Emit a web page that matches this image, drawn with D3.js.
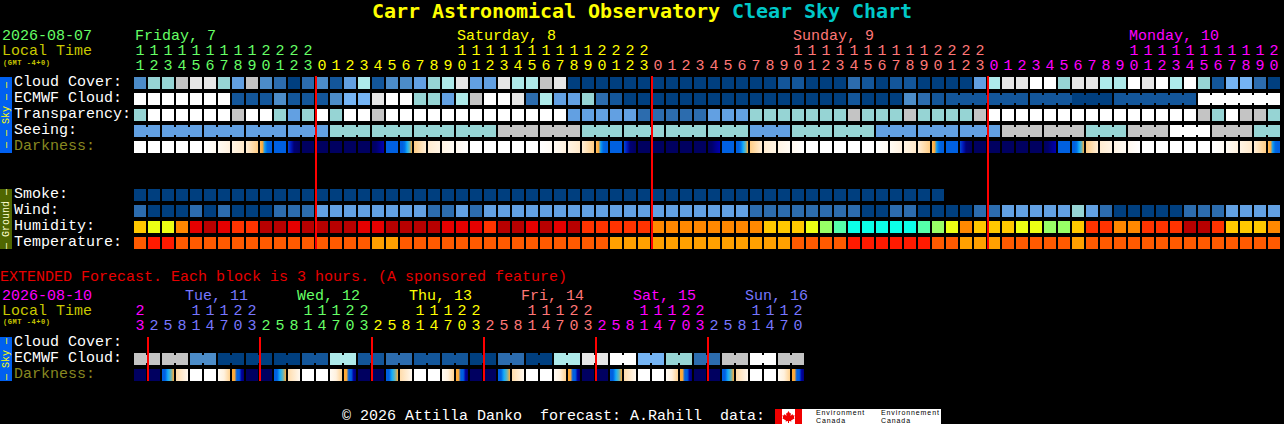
<!DOCTYPE html>
<html><head><meta charset="utf-8">
<style>
html,body{margin:0;padding:0;background:#000;overflow:hidden}
svg{display:block}
text{white-space:pre;font-family:"Liberation Mono",monospace;font-size:15px}
</style>
<script src="https://d3js.org/d3.v7.min.js"></script>
</head><body><svg id="c" width="1284" height="424"></svg>
<script>
// ---------- hourly forecast ----------
const hourLabels = [11,12,13,14,15,16,17,18,19,20,21,22,23,
 0,1,2,3,4,5,6,7,8,9,10,11,12,13,14,15,16,17,18,19,20,21,22,23,
 0,1,2,3,4,5,6,7,8,9,10,11,12,13,14,15,16,17,18,19,20,21,22,23,
 0,1,2,3,4,5,6,7,8,9,10,11,12,13,14,15,16,17,18,19,20];
const hourDays = [[0,13,"Friday, 7","#66ff66",0],[13,37,"Saturday, 8","#ffff00",23],[37,61,"Sunday, 9","#ff7777",47],[61,82,"Monday, 10","#ff00ff",71]];
const cloudCover = [3,6,6,8,9,9,6,4,8,3,2,0,2,3,1,4,7,1,3,3,4,6,7,9,4,4,9,7,7,8,9,0,0,0,0,0,0,0,0,0,0,0,0,0,0,0,1,1,0,0,0,2,1,0,1,1,0,0,0,0,4,7,9,9,10,10,6,9,9,7,7,10,9,10,7,10,6,1,5,5,2,0];
const ecmwfCloud = [10,10,10,10,10,10,10,1,1,1,3,1,1,1,3,5,5,9,10,10,6,6,4,7,8,10,10,9,2,7,4,4,6,2,1,0,0,0,0,0,0,0,0,0,0,0,0,0,0,0,0,1,0,0,0,3,2,1,1,1,1,1,1,1,1,1,1,0,0,0,1,1,1,1,1,1,10,10,10,10,10,10];
const ecmwfGroups = [[58,63],[64,69],[70,75],[76,81]];
const transparency = [6,10,10,10,10,10,10,8,10,10,6,4,6,10,6,10,10,8,10,10,10,10,10,10,10,10,10,10,10,10,10,4,4,4,4,4,2,2,2,2,2,4,4,4,6,6,6,6,6,6,6,8,6,6,6,8,6,6,6,6,8,10,10,10,10,10,10,10,10,10,10,10,10,10,10,10,8,6,10,8,8,6];
const seeing = [4,4,4,4,4,4,4,4,4,4,4,4,4,4,6,6,6,6,6,6,6,6,6,6,6,6,8,8,8,8,8,8,6,6,6,6,6,6,6,6,6,6,6,6,4,4,4,6,6,6,6,6,6,4,4,4,4,4,4,4,4,4,8,8,8,8,8,8,6,6,6,8,8,8,10,10,10,8,8,8,6,6];
const seeingGroups = [[0,1],[2,4],[5,7],[8,10],[11,13],[14,16],[17,19],[20,22],[23,25],[26,28],[29,31],[32,34],[35,37],[38,40],[41,43],[44,46],[47,49],[50,52],[53,55],[56,58],[59,61],[62,64],[65,67],[68,70],[71,73],[74,76],[77,79],[80,81]];
// darkness: each cell lists samples along its width, 0 white .. 4 navy
const darkness = [
 [0],[0],[0],[0],[0],[0,.25],[.2,.6],[.5,.9],[.7,1.5],[1.7,1.9,2.5,2.9,3,3],[3],[3.1,3.3,3.8,3.9,4],[4],
 [4],[4],[4],[4],[4,3.9,3.6,3.4],[3],[3,3,2.8,2.4,2.2,1.9],[1.5,.7],[.8,.5],[.5,.2],[.3,0],
 [0],[0],[0],[0],[0],[0,.2],[.2,.6],[.5,.9],[.7,1.5],[1.7,1.9,2.5,2.9,3,3],[3],[3.1,3.3,3.8,3.9,4],[4],
 [4],[4],[4],[4],[4,3.9,3.6,3.4],[3],[3,3,2.8,2.4,2.2,1.9],[1.5,.7],[.8,.5],[.5,.2],[.3,0],
 [0],[0],[0],[0],[0],[0,.2],[.2,.6],[.5,.9],[.7,1.5],[1.7,1.9,2.5,2.9,3,3],[3],[3.1,3.3,3.8,3.9,4],[4],
 [4],[4],[4],[4],[4,3.9,3.6,3.4],[3],[3,3,2.8,2.4,2.2,1.9],[1.5,.7],[.8,.5],[.5,.2],[.3,0],
 [0],[0],[0],[0],[0],[0,.2],[.2,.6],[.5,.9],[.7,1.5],[1.7,1.9,2.5,2.9,3,3]];
const smoke = [0,0,0,0,0,0,0,0,0,0,0,0,0,0,0,0,0,0,0,0,0,0,0,0,0,0,0,0,0,0,0,0,0,0,0,0,0,0,0,0,0,0,0,0,0,0,0,0,0,0,0,0,0,0,0,0,0,0];
const wind = [2,0,0,0,2,0,2,0,0,0,2,2,2,4,4,4,4,4,4,4,4,2,2,4,2,4,4,4,4,4,4,4,4,4,4,4,4,4,4,4,4,4,4,4,2,2,2,2,2,2,2,2,0,0,2,2,0,0,0,0,2,2,4,4,4,4,4,6,4,2,0,0,0,0,0,2,2,2,4,4,4,4];
const humidity = [4,5,5,3,1,0,1,2,2,0,0,1,0,0,0,0,1,1,0,0,0,0,1,1,1,2,0,0,1,0,1,0,2,2,2,2,2,3,3,3,3,3,3,3,3,4,4,4,5,6,7,8,8,8,8,8,7,6,5,3,4,4,4,5,5,6,6,4,2,2,3,3,2,2,2,0,0,2,4,4,4,3];
const temperature = [1,0,0,1,1,1,1,1,1,1,1,1,1,1,1,1,1,2,2,1,1,1,1,1,1,1,1,1,1,1,1,1,1,1,2,2,2,2,2,2,2,2,2,2,2,2,2,1,1,1,1,0,0,0,0,0,0,1,1,2,2,2,1,1,1,1,1,2,1,1,1,1,1,1,1,1,1,1,1,1,1,1];
const midnights = [13,37,61];
// ---------- extended forecast ----------
const extHours = [23,2,5,8,11,14,17,20,23,2,5,8,11,14,17,20,23,2,5,8,11,14,17,20,23,2,5,8,11,14,17,20,23,2,5,8,11,14,17,20,23,2,5,8,11,14,17,20];
const extDays = [[0,1,null,"#ff00ff",0],[1,9,"Tue, 11","#7777ff",4],[9,17,"Wed, 12","#66ff66",12],[17,25,"Thu, 13","#ffff00",20],[25,33,"Fri, 14","#ff7777",28],[33,41,"Sat, 15","#ff00ff",36],[41,48,"Sun, 16","#7777ff",44]];
const extCloud = [8,8,8,8,3,3,0,0,0,0,0,0,1,1,7,7,1,1,2,2,1,1,1,1,0,0,2,2,0,0,7,7,9,9,10,10,5,5,6,6,2,2,8,8,10,10,8,8];
const extDark = [
 [4],[4],[3,3,2.4,2.2,1.9],[1.2,.3],[0],[0],[.2,.6,1.4],[1.9,1.9,3,3,3.5,3.8],
 [4],[4],[3,3,2.4,2.2,1.9],[1.2,.3],[0],[0],[.2,.6,1.4],[1.9,1.9,3,3,3.5,3.8],
 [4],[4],[3,3,2.4,2.2,1.9],[1.2,.3],[0],[0],[.2,.6,1.4],[1.9,1.9,3,3,3.5,3.8],
 [4],[4],[3,3,2.4,2.2,1.9],[1.2,.3],[0],[0],[.2,.6,1.4],[1.9,1.9,3,3,3.5,3.8],
 [4],[4],[3,3,2.4,2.2,1.9],[1.2,.3],[0],[0],[.2,.6,1.4],[1.9,1.9,3,3,3.5,3.8],
 [4],[4],[3,3,2.4,2.2,1.9],[1.2,.3],[0],[0],[.2,.6,1.4],[1.9,1.9,3,3,3.5,3.8]];
const extMidnights = [1,9,17,25,33,41];
// ---------- palettes ----------
const cloudPalette = ["#003f7f","#13569a","#2c6cae","#4c8cc8","#62a0e2","#75b4f4","#96d4d4","#aeeaea","#c4c4c4","#e6e6e6","#ffffff"];
const humidityPalette = ["#b80000","#e60000","#ff3300","#ff8800","#ffc800","#ecff14","#98ff66","#55ffaa","#0cffe8"];
const tempPalette = ["#ff1a00","#ff5a00","#ffa000"];
const darkColor = d3.scaleLinear()
  .domain([0,.5,1,1.6,2,2.3,2.6,3,3.4,3.7,4])
  .range(["#ffffff","#fff4e4","#ffe6c4","#ffc878","#ffa020","#20c0ff","#0088f0","#0060e0","#0000b0","#000080","#000060"]);

const svg = d3.select("#c");
const defs = svg.append("defs");
const X = d3.scaleLinear().domain([0,1]).range([134,148]);   // cell position
const W = 12, H = 12;

function cells(vals, y, pal){
  svg.append("g").selectAll("rect").data(vals).join("rect")
    .attr("x",(d,i)=>X(i)).attr("y",y).attr("width",W).attr("height",H)
    .attr("fill",d=>pal[d]);
}
function necks(vals, groups, y, pal){
  const g = svg.append("g");
  groups.forEach(([a,b])=>{
    d3.range(a,b).forEach(i=>{
      g.append("rect").attr("x",X(i)+W).attr("y",y+2).attr("width",X(1)-X(0)-W).attr("height",H-4).attr("fill",pal[vals[i]]);
    });
  });
}
let gid = 0;
function darkCells(vals, y){
  const g = svg.append("g");
  vals.forEach((s,i)=>{
    let fill;
    if(s.length===1) fill = darkColor(s[0]);
    else {
      const id = "d"+(gid++);
      const lg = defs.append("linearGradient").attr("id",id);
      s.forEach((v,k)=>lg.append("stop").attr("offset",k/(s.length-1)).attr("stop-color",darkColor(v)));
      fill = `url(#${id})`;
    }
    g.append("rect").attr("x",X(i)).attr("y",y).attr("width",W).attr("height",H).attr("fill",fill);
  });
}
function txt(x,y,s,fill,extra){
  const t = svg.append("text").attr("x",x).attr("y",y).attr("fill",fill).text(s);
  if(extra) Object.entries(extra).forEach(([k,v])=>t.style(k,v));
  return t;
}
function hourTicks(hours, days, yT, yU){
  days.forEach(([a,b,label,col])=>{
    d3.range(a,b).forEach(i=>{
      const h = hours[i];
      if(h>=10) txt(X(i)+6,yT,String(Math.floor(h/10)),col).attr("text-anchor","middle");
      txt(X(i)+6,yU,String(h%10),col).attr("text-anchor","middle");
    });
  });
}
function sideBar(y0,y1,bg,fg,label){
  svg.append("rect").attr("x",0).attr("y",y0).attr("width",12).attr("height",y1-y0).attr("fill",bg);
  svg.append("text").attr("transform",`translate(9,${(y0+y1)/2}) rotate(-90)`)
    .attr("text-anchor","middle").attr("fill",fg).style("font-size","10px").text(label);
}

// title
svg.append("text").attr("x",372).attr("y",18).style("font-family","DejaVu Sans Mono").style("font-weight","bold").style("font-size","20px").style("letter-spacing","-0.04px")
  .call(t=>{ t.append("tspan").attr("fill","#ffff00").text("Carr Astronomical Observatory ");
             t.append("tspan").attr("fill","#00c8c8").text("Clear Sky Chart"); });

// hourly header
txt(2,40,"2026-08-07","#66ff66");
txt(2,55,"Local Time","#c8c800");
txt(3,65,"(GMT -4+0)","#c8c800",{"font-size":"7px","font-weight":"bold","letter-spacing":"0.55px"});
hourDays.forEach(([a,b,label,col,at])=>txt(X(at)+1,40,label,col));
hourTicks(hourLabels,hourDays,55,70);

// hourly rows
const rowLabels = [["Cloud Cover:",86,"#fff"],["ECMWF Cloud:",102,"#fff"],["Transparency:",118,"#fff"],["Seeing:",134,"#fff"],["Darkness:",150,"#888820"],
  ["Smoke:",198,"#fff"],["Wind:",214,"#fff"],["Humidity:",230,"#fff"],["Temperature:",246,"#fff"]];
rowLabels.forEach(([s,y,c])=>txt(14,y,s,c));
cells(cloudCover,77,cloudPalette);
cells(ecmwfCloud,93,cloudPalette); necks(ecmwfCloud,ecmwfGroups,93,cloudPalette);
cells(transparency,109,cloudPalette);
cells(seeing,125,cloudPalette); necks(seeing,seeingGroups,125,cloudPalette);
darkCells(darkness,141);
cells(smoke,189,cloudPalette);
cells(wind,205,cloudPalette);
cells(humidity,221,humidityPalette);
cells(temperature,237,tempPalette);
svg.append("g").selectAll("rect").data(midnights).join("rect")
  .attr("x",d=>X(d)-1).attr("y",76).attr("width",2).attr("height",173).attr("fill","#ff0000");
sideBar(77,153,"#0060f0","#ffff00","— — Sky — —");
sideBar(189,249,"#4f6600","#ffffd0","— Ground —");

// extended
txt(0,281,"EXTENDED Forecast. Each block is 3 hours. (A sponsored feature)","#e80000");
txt(2,300,"2026-08-10","#ff00ff");
txt(2,315,"Local Time","#c8c800");
txt(3,324,"(GMT -4+0)","#c8c800",{"font-size":"7px","font-weight":"bold","letter-spacing":"0.55px"});
extDays.forEach(([a,b,label,col,at])=>{ if(label) txt(X(at)-5,300,label,col); });
hourTicks(extHours,extDays,315,330);
[["Cloud Cover:",346,"#fff"],["ECMWF Cloud:",362,"#fff"],["Darkness:",378,"#888820"]].forEach(([s,y,c])=>txt(14,y,s,c));
cells(extCloud,353,cloudPalette);
necks(extCloud,d3.range(0,48,2).map(a=>[a,a+1]),353,cloudPalette);
darkCells(extDark,369);
svg.append("g").selectAll("rect").data(extMidnights).join("rect")
  .attr("x",d=>X(d)-1).attr("y",337).attr("width",2).attr("height",44).attr("fill","#ff0000");
sideBar(337,381,"#0060f0","#ffff00","— Sky —");

// footer
txt(342,420,"© 2026 Attilla Danko  forecast: A.Rahill  data:","#fff");
svg.append("rect").attr("x",775).attr("y",409).attr("width",166).attr("height",15).attr("fill","#fff");
svg.append("rect").attr("x",775).attr("y",409).attr("width",7).attr("height",15).attr("fill","#f00000");
svg.append("rect").attr("x",795).attr("y",409).attr("width",7).attr("height",15).attr("fill","#f00000");
svg.append("path").attr("transform","translate(788.5,417)").attr("fill","#f00000")
  .attr("d","M0,-6L1.5,-3.5L2.5,-4L2,-1L4,-3L4.5,-1.5L6,-2L5.5,0.5L6,1.5L2.5,3.5L3,4.5L0.5,4L0.5,6L-0.5,6L-0.5,4L-3,4.5L-2.5,3.5L-6,1.5L-5.5,0.5L-6,-2L-4.5,-1.5L-4,-3L-2,-1L-2.5,-4L-1.5,-3.5Z");
const small = {"font-family":"Liberation Sans","font-size":"7px","letter-spacing":"0.9px"};
txt(816,415,"Environment","#000",small); txt(816,423,"Canada","#000",small);
txt(881,415,"Environnement","#000",small); txt(881,423,"Canada","#000",small);
</script></body></html>
